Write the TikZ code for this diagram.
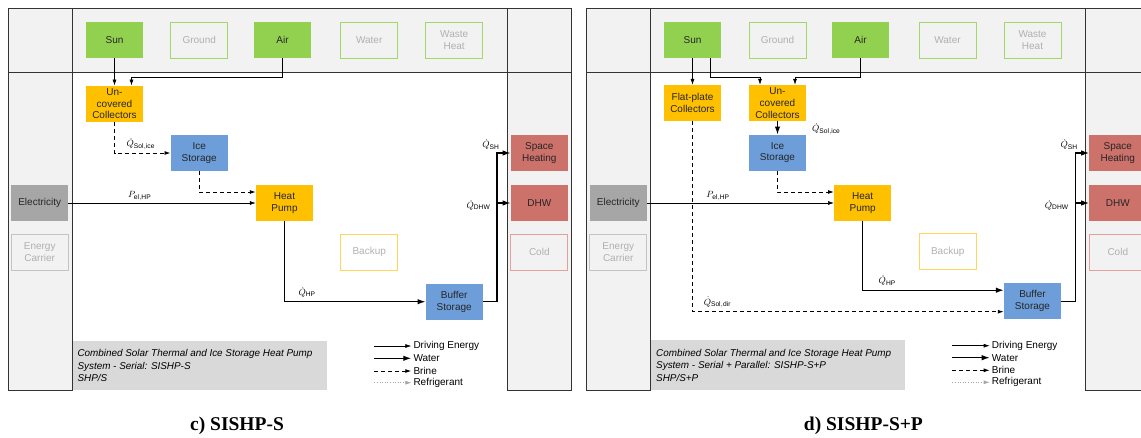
\documentclass[tikz,border=0pt]{standalone}
\usepackage{amsmath}
\usepackage{fontspec}
\setmainfont{Liberation Sans}
\newfontfamily\capfont{Liberation Serif}
\usetikzlibrary{arrows.meta, positioning}

\definecolor{srcgreen}{HTML}{92D050}
\definecolor{hporange}{HTML}{FFC000}
\definecolor{backorange}{HTML}{FFD55A}
\definecolor{stblue}{HTML}{6D9EDA}
\definecolor{sinkred}{HTML}{CD716B}
\definecolor{coldred}{HTML}{E3A19D}
\definecolor{elgray}{HTML}{A6A6A6}
\definecolor{carrgray}{HTML}{C4C4C4}
\definecolor{bandgray}{HTML}{F2F2F2}
\definecolor{infogray}{HTML}{D9D9D9}
\definecolor{offtext}{HTML}{B0B0B0}

\begin{document}
\begin{tikzpicture}[x=1pt, y=-1pt, >={Latex[length=6pt,width=4pt]},
  every node/.style={font=\fontsize{10}{11.7}\selectfont},
  box/.style={minimum width=57pt, minimum height=36pt, inner sep=0pt, align=center, text=black!85},
  src/.style={box, fill=srcgreen},
  srcoff/.style={box, draw=srcgreen!85, fill=bandgray, text=offtext, line width=0.8pt},
  coll/.style={box, fill=hporange},
  store/.style={box, fill=stblue},
  elec/.style={box, fill=elgray},
  carr/.style={box, draw=carrgray, fill=bandgray, text=offtext, line width=0.8pt},
  backup/.style={box, draw=backorange, text=offtext, line width=0.8pt},
  sink/.style={box, fill=sinkred},
  sinkoff/.style={box, draw=coldred, fill=bandgray, text=offtext, line width=0.8pt},
  frame/.style={draw=black!80, line width=0.8pt},
  drive/.style={->, line width=0.6pt},
  water/.style={-{Latex[length=8pt,width=5.5pt]}, line width=1.2pt},
  brine/.style={->, line width=0.9pt, dash pattern=on 4pt off 3pt},
  refr/.style={->, line width=0.6pt, draw=elgray, dotted},
  lbl/.style={font=\fontsize{9.5}{10}\selectfont, inner sep=1pt},
  legtxt/.style={anchor=west, inner sep=2pt},
  info/.style={anchor=west, align=left, inner sep=2pt, font=\fontsize{9.9}{12.5}\selectfont\itshape},
  caption/.style={font=\fontsize{19.5}{22}\selectfont\capfont\bfseries}
]
\useasboundingbox (0,0) rectangle (1141,437);
\clip (0,0) rectangle (1141,437);

% ---- c) SISHP-S ----
\begin{scope}
\fill[bandgray] (8,8) rectangle (571.3,72);
\fill[bandgray] (8,72) rectangle (72,390);
\fill[bandgray] (507.7,72) rectangle (571.3,390);
\fill[infogray] (72,341) rectangle (326.7,390);
\draw[frame] (8,8) rectangle (571.3,72);
\draw[frame] (8,8) rectangle (72,390);
\draw[frame] (507.7,8) rectangle (571.3,390);

\node[src] (cSun) at (114.5,40) {Sun};
\node[srcoff] (cGround) at (199.2,40) {Ground};
\node[src] (cAir) at (282.5,40) {Air};
\node[srcoff] (cWater) at (369.2,40) {Water};
\node[srcoff] (cWaste) at (454.2,40) {Waste\\Heat};
\node[coll] (cUnc) at (114.5,103.7) {Un-\\covered\\Collectors};
\node[store] (cIce) at (199.2,153) {Ice\\Storage};
\node[coll] (cHP) at (284.5,203) {Heat\\Pump};
\node[elec] (cEl) at (39.7,203) {Electricity};
\node[carr] (cCarr) at (39.7,252.2) {Energy\\Carrier};
\node[backup] (cBack) at (369.2,252.2) {Backup};
\node[store] (cBuf) at (454.2,301.7) {Buffer\\Storage};
\node[sink] (cSH) at (539.3,153) {Space\\Heating};
\node[sink] (cDHW) at (539.3,203) {DHW};
\node[sinkoff] (cCold) at (539.3,252.2) {Cold};

\draw[drive] (cSun.south) -- (cUnc.north);
\draw[drive] (cAir.south) -- ++(0,19) -| ([xshift=17pt]cUnc.north);
\draw[brine] (cUnc.south) |- node[lbl, pos=0.735, above=2pt] {$\dot Q_{\mathrm{Sol,ice}}$} (cIce.west);
\draw[brine] (cIce.south) |- ([yshift=11pt]cHP.west);
\draw[drive] (cEl.east) -- node[lbl, pos=0.38, above=1pt] {$P_{\mathrm{el,HP}}$} (cHP.west);
\draw[water] (cHP.south) |- node[lbl, pos=0.58, above=3pt] {$\dot Q_{\mathrm{HP}}$} (cBuf.west);
\draw[water] (cBuf.east) -- ++(14,0) |- node[lbl, pos=0.5, above left=2pt and -4pt] {$\dot Q_{\mathrm{SH}}$} (cSH.west);
\draw[water] (cBuf.east) -- ++(14,0) |- node[lbl, pos=0.5, left=5pt, yshift=-2pt] {$\dot Q_{\mathrm{DHW}}$} (cDHW.west);

\node[info] (cInfo) at (75.3,365.5) {Combined Solar Thermal and Ice Storage Heat Pump\\System - Serial: SISHP-S\\SHP/S};

\node[legtxt] (cLgDrive) at (411.3,346) {Driving Energy};
\node[legtxt] (cLgWater) at (411.3,358.3) {Water};
\node[legtxt] (cLgBrine) at (411.3,371) {Brine};
\node[legtxt] (cLgRefr) at (411.3,382.7) {Refrigerant};
\coordinate (cL1) at (374.3,346);
\coordinate (cL2) at (374.3,358.3);
\coordinate (cL3) at (374.3,371);
\coordinate (cL4) at (374.3,382.7);
\draw[drive] (cL1) -- (cLgDrive.west);
\draw[water] (cL2) -- (cLgWater.west);
\draw[brine] (cL3) -- (cLgBrine.west);
\draw[refr] (cL4) -- (cLgRefr.west);

\node[caption] (cCap) at (237,426) {c) SISHP-S};
\end{scope}

% ---- d) SISHP-S+P ----
\begin{scope}[xshift=578pt]
\fill[bandgray] (8,8) rectangle (571.3,72);
\fill[bandgray] (8,72) rectangle (72,390);
\fill[bandgray] (507.7,72) rectangle (571.3,390);
\fill[infogray] (72,340) rectangle (327,390);
\draw[frame] (8,8) rectangle (571.3,72);
\draw[frame] (8,8) rectangle (72,390);
\draw[frame] (507.7,8) rectangle (571.3,390);

\node[src] (dSun) at (114.5,40) {Sun};
\node[srcoff] (dGround) at (199.5,40) {Ground};
\node[src] (dAir) at (282.5,40) {Air};
\node[srcoff] (dWater) at (369.5,40) {Water};
\node[srcoff] (dWaste) at (454.5,40) {Waste\\Heat};
\node[coll] (dFlat) at (114.5,103) {Flat-plate\\Collectors};
\node[coll] (dUnc) at (199.5,103) {Un-\\covered\\Collectors};
\node[store] (dIce) at (199.5,152.7) {Ice\\Storage};
\node[coll] (dHP) at (284.7,203) {Heat\\Pump};
\node[elec] (dEl) at (40.3,203) {Electricity};
\node[carr] (dCarr) at (40.3,252) {Energy\\Carrier};
\node[backup] (dBack) at (369.7,251.7) {Backup};
\node[store] (dBuf) at (454.5,301.2) {Buffer\\Storage};
\node[sink] (dSH) at (539.8,153) {Space\\Heating};
\node[sink] (dDHW) at (539.8,203) {DHW};
\node[sinkoff] (dCold) at (539.8,252) {Cold};

\draw[drive] (dSun.south) -- (dFlat.north);
\draw[drive] ([xshift=17.5pt]dSun.south) -- ++(0,18.7) -| ([xshift=-17.5pt]dUnc.north);
\draw[drive] (dAir.south) -- ++(0,18.7) -| ([xshift=17.5pt]dUnc.north);
\draw[water] (dUnc.south) -- node[lbl, right=33pt, yshift=-1pt] {$\dot Q_{\mathrm{Sol,ice}}$} (dIce.north);
\draw[brine] (dIce.south) |- ([yshift=11pt]dHP.west);
\draw[drive] (dEl.east) -- node[lbl, pos=0.38, above=1pt] {$P_{\mathrm{el,HP}}$} (dHP.west);
\draw[brine] (dFlat.south) |- node[lbl, pos=0.54, above=2pt] {$\dot Q_{\mathrm{Sol,dir}}$} ([yshift=-10.5pt]dBuf.west);
\draw[water] (dHP.south) |- node[lbl, pos=0.587, above=3pt] {$\dot Q_{\mathrm{HP}}$} ([yshift=11pt]dBuf.west);
\draw[water] (dBuf.east) -- ++(14,0) |- node[lbl, pos=0.5, above left=2pt and -4pt] {$\dot Q_{\mathrm{SH}}$} (dSH.west);
\draw[water] (dBuf.east) -- ++(14,0) |- node[lbl, pos=0.5, left=5pt, yshift=-2pt] {$\dot Q_{\mathrm{DHW}}$} (dDHW.west);

\node[info] (dInfo) at (76,365) {Combined Solar Thermal and Ice Storage Heat Pump\\System - Serial + Parallel: SISHP-S+P\\SHP/S+P};

\node[legtxt] (dLgDrive) at (411.7,345.7) {Driving Energy};
\node[legtxt] (dLgWater) at (411.7,357.7) {Water};
\node[legtxt] (dLgBrine) at (411.7,370.3) {Brine};
\node[legtxt] (dLgRefr) at (411.7,382.3) {Refrigerant};
\coordinate (dL1) at (374.3,345.7);
\coordinate (dL2) at (374.3,357.7);
\coordinate (dL3) at (374.3,370.3);
\coordinate (dL4) at (374.3,382.3);
\draw[drive] (dL1) -- (dLgDrive.west);
\draw[water] (dL2) -- (dLgWater.west);
\draw[brine] (dL3) -- (dLgBrine.west);
\draw[refr] (dL4) -- (dLgRefr.west);

\node[caption] (dCap) at (285.4,426) {d) SISHP-S+P};
\end{scope}
\end{tikzpicture}
\end{document}
